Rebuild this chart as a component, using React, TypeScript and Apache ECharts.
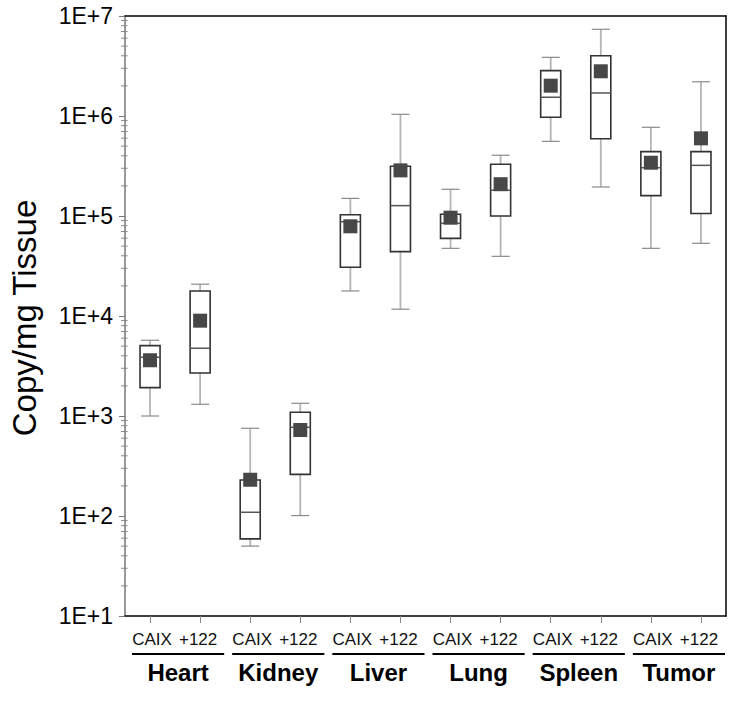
import React, { useEffect, useRef } from "react";
import * as echarts from "echarts";

// ---- data ----
const groups = ["Heart", "Kidney", "Liver", "Lung", "Spleen", "Tumor"];
const treatments = ["CAIX", "+122"];
const categoryKeys = groups.flatMap((g) => treatments.map((t) => `${g} ${t}`));

const lowerWhisker = [1000, 1310, 50, 101, 17800, 11700, 47500, 39500, 558000, 195000, 47500, 53300];
const q1Values = [1920, 2690, 59, 261, 30700, 44000, 59800, 100000, 970000, 593000, 160000, 106000];
const medianValues = [3870, 4760, 109, 771, 87700, 127000, 84500, 181000, 1540000, 1700000, 304000, 321000];
const q3Values = [5050, 17800, 229, 1090, 103000, 314000, 104000, 329000, 2840000, 4010000, 440000, 440000];
const upperWhisker = [5720, 20800, 754, 1340, 150000, 1040000, 185000, 405000, 3860000, 7360000, 771000, 2200000];
const meanValues = [3610, 8980, 231, 724, 78900, 286000, 96200, 208000, 2010000, 2800000, 341000, 598000];

const yMin = 10;
const yMax = 1e7;
const minorMultipliers = [2, 3, 4, 5, 6, 7, 8, 9];
const decades = [1e1, 1e2, 1e3, 1e4, 1e5, 1e6];

const FONT = '"Liberation Sans", Arial, Helvetica, sans-serif';

export default function App() {
  const ref = useRef<HTMLDivElement>(null);

  useEffect(() => {
    if (!ref.current) return;
    const chart = echarts.init(ref.current, null, { renderer: "svg" });

    const boxData = categoryKeys.map((_, i) => [
      i,
      lowerWhisker[i],
      q1Values[i],
      medianValues[i],
      q3Values[i],
      upperWhisker[i],
      meanValues[i],
    ]);
    const minorData: number[][] = [];
    decades.forEach((d) => minorMultipliers.forEach((m) => minorData.push([0, m * d])));
    const groupData = groups.map((_, i) => [i, 10]);

    const option: any = {
      animation: false,
      backgroundColor: "#ffffff",
      grid: { left: 125, top: 16, width: 601, height: 600, containLabel: false },
      graphic: [
        {
          type: "text",
          x: 24,
          y: 318,
          rotation: Math.PI / 2,
          style: {
            text: "Copy/mg Tissue",
            font: `33px ${FONT}`,
            fill: "#000",
            textAlign: "center",
            textVerticalAlign: "middle",
          },
        },
      ],
      xAxis: [
        {
          type: "category",
          data: categoryKeys,
          position: "bottom",
          boundaryGap: true,
          axisLine: { show: true, lineStyle: { color: "#000", width: 1.5 } },
          axisTick: { show: true, alignWithLabel: true, length: 7, lineStyle: { color: "#888", width: 1 } },
          axisLabel: {
            interval: 0,
            margin: 15,
            color: "#111",
            fontSize: 17,
            fontFamily: FONT,
            formatter: (v: string) => {
              const t = v.split(" ")[1];
              return t === "CAIX" ? `{a|${t}}` : `{b|${t}}`;
            },
            rich: {
              a: { fontSize: 17, fontFamily: FONT, color: "#111", padding: [0, 0, 0, 4] },
              b: { fontSize: 17, fontFamily: FONT, color: "#111", padding: [0, 4, 0, 0] },
            },
          },
          splitLine: { show: false },
        },
        {
          type: "category",
          data: categoryKeys,
          position: "top",
          axisLine: { show: true, lineStyle: { color: "#000", width: 1.5 } },
          axisTick: { show: false },
          axisLabel: { show: false },
          splitLine: { show: false },
        },
        {
          type: "category",
          data: groups,
          position: "bottom",
          offset: 36,
          axisLine: { show: false },
          axisTick: { show: false },
          axisLabel: {
            interval: 0,
            margin: 8,
            color: "#000",
            fontSize: 24,
            fontWeight: "bold",
            fontFamily: FONT,
            padding: [0, 0, 0, 6],
          },
          splitLine: { show: false },
        },
      ],
      yAxis: [
        {
          type: "log",
          logBase: 10,
          min: yMin,
          max: yMax,
          splitNumber: 6,
          axisLine: { show: true, lineStyle: { color: "#777", width: 1.5 } },
          axisTick: { show: true, length: 6, lineStyle: { color: "#777", width: 1 } },
          axisLabel: {
            margin: 12,
            color: "#000",
            fontSize: 23,
            fontFamily: FONT,
            formatter: (v: number) => "1E+" + Math.round(Math.log10(v)),
          },
          splitLine: { show: false },
        },
        {
          type: "log",
          logBase: 10,
          min: yMin,
          max: yMax,
          position: "right",
          axisLine: { show: true, lineStyle: { color: "#000", width: 1.5 } },
          axisTick: { show: false },
          axisLabel: { show: false },
          splitLine: { show: false },
        },
      ],
      series: [
        {
          type: "custom",
          name: "minorTicks",
          xAxisIndex: 0,
          yAxisIndex: 0,
          clip: false,
          silent: true,
          data: minorData,
          encode: { x: 0, y: 1 },
          renderItem: (params: any, api: any) => {
            const cs = params.coordSys;
            const y = api.coord([0, api.value(1)])[1];
            return {
              type: "line",
              shape: { x1: cs.x - 4, y1: y, x2: cs.x + 2.5, y2: y },
              style: { stroke: "#888", lineWidth: 1 },
            };
          },
        },
        {
          type: "custom",
          name: "boxes",
          xAxisIndex: 0,
          yAxisIndex: 0,
          clip: false,
          data: boxData,
          encode: { x: 0, y: [1, 2, 3, 4, 5, 6] },
          renderItem: (params: any, api: any) => {
            const cs = params.coordSys;
            const band = cs.width / categoryKeys.length;
            const idx = api.value(0);
            const cx = api.coord([idx, api.value(3)])[0];
            const yLow = api.coord([idx, api.value(1)])[1];
            const yQ1 = api.coord([idx, api.value(2)])[1];
            const yMed = api.coord([idx, api.value(3)])[1];
            const yQ3 = api.coord([idx, api.value(4)])[1];
            const yUp = api.coord([idx, api.value(5)])[1];
            const yMean = api.coord([idx, api.value(6)])[1];
            const hw = band * 0.2;
            const cap = band * 0.18;
            const sq = 7;
            return {
              type: "group",
              children: [
                {
                  type: "line",
                  shape: { x1: cx, y1: yUp, x2: cx, y2: yLow },
                  style: { stroke: "#b4b4b4", lineWidth: 1.8 },
                },
                {
                  type: "line",
                  shape: { x1: cx - cap, y1: yUp, x2: cx + cap, y2: yUp },
                  style: { stroke: "#8a8a8a", lineWidth: 1.2 },
                },
                {
                  type: "line",
                  shape: { x1: cx - cap, y1: yLow, x2: cx + cap, y2: yLow },
                  style: { stroke: "#8a8a8a", lineWidth: 1.2 },
                },
                {
                  type: "rect",
                  shape: { x: cx - hw, y: yQ3, width: hw * 2, height: yQ1 - yQ3 },
                  style: { fill: "#ffffff", stroke: "#333", lineWidth: 1.6 },
                },
                {
                  type: "line",
                  shape: { x1: cx - hw, y1: yMed, x2: cx + hw, y2: yMed },
                  style: { stroke: "#555", lineWidth: 1.5 },
                },
                {
                  type: "rect",
                  shape: { x: cx - sq, y: yMean - sq, width: sq * 2, height: sq * 2 },
                  style: { fill: "#474747", stroke: "none" },
                },
              ],
            };
          },
        },
        {
          type: "custom",
          name: "groupUnderlines",
          xAxisIndex: 2,
          yAxisIndex: 0,
          clip: false,
          silent: true,
          data: groupData,
          encode: { x: 0, y: 1 },
          renderItem: (params: any, api: any) => {
            const cs = params.coordSys;
            const band = cs.width / groups.length;
            const cx = api.coord([api.value(0), api.value(1)])[0];
            const y = cs.y + cs.height + 38;
            return {
              type: "line",
              shape: { x1: cx - band / 2 + 7, y1: y, x2: cx + band / 2 - 1, y2: y },
              style: { stroke: "#000", lineWidth: 2 },
            };
          },
        },
      ],
    };

    chart.setOption(option);
    return () => chart.dispose();
  }, []);

  return (
    <div
      ref={ref}
      style={{ position: "fixed", left: 0, top: 0, width: 742, height: 725, background: "#fff" }}
    />
  );
}
